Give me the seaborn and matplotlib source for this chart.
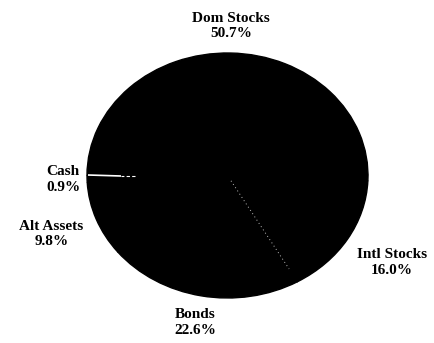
import numpy as np
import matplotlib
matplotlib.use("Agg")
import matplotlib.pyplot as plt
import seaborn as sns

# Asset allocation
categories = ["Dom Stocks", "Intl Stocks", "Bonds", "Alt Assets", "Cash"]
shares = [50.7, 16.0, 22.6, 9.8, 0.9]

# label distance from the centre, in pie radii
label_dist = [1.22, 1.37, 1.22, 1.34, 1.17]

sns.set_theme(style="white")
plt.rcParams["font.family"] = ["Liberation Serif", "DejaVu Serif"]

fig = plt.figure(figsize=(4.35, 3.43), dpi=100)
fig.patch.set_facecolor("white")
ax = fig.add_axes([87 / 435, 45 / 343, 281 / 435, 245 / 343])

wedges, _ = ax.pie(
    shares,
    colors=["black"] * len(shares),
    startangle=180,
    counterclock=False,
    wedgeprops=dict(linewidth=1.0, edgecolor="black"),
)
ax.set_aspect("auto")
ax.set_xlim(-1, 1)
ax.set_ylim(-1, 1)
ax.axis("off")


def ray(theta_deg, r0, r1):
    t = np.deg2rad(theta_deg)
    return [r0 * np.cos(t), r1 * np.cos(t)], [r0 * np.sin(t), r1 * np.sin(t)]


# boundary between Dom Stocks and Cash
xs, ys = ray(wedges[0].theta2, 0.76, 0.995)
ax.plot(xs, ys, color="white", lw=1.2, solid_capstyle="butt")
xs, ys = ray(wedges[0].theta2, 0.66, 0.76)
ax.plot(xs, ys, color="white", lw=0.8, ls=(0, (3, 2)))

# boundary between Intl Stocks and Bonds
xs, ys = ray(wedges[1].theta1, 0.05, 0.88)
ax.plot(xs, ys, color="#bdbdbd", lw=0.7, ls=(0, (1, 3)))

for w, name, val, d in zip(wedges, categories, shares, label_dist):
    mid = np.deg2rad((w.theta1 + w.theta2) / 2)
    ax.text(
        d * np.cos(mid),
        d * np.sin(mid),
        f"{name}\n{val:.1f}%",
        ha="center",
        va="center",
        fontsize=11,
        fontweight="bold",
        color="black",
        linespacing=1.25,
        clip_on=False,
    )

fig.savefig("out.png", dpi=100, facecolor="white")
